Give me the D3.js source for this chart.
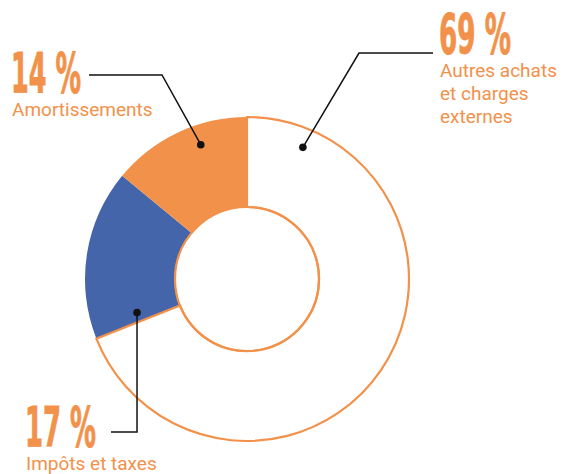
<!DOCTYPE html>
<html>
<head>
<meta charset="utf-8">
<script src="https://cdn.jsdelivr.net/npm/d3@7"></script>
<style>
  html, body { margin: 0; padding: 0; background: #fff; }
  svg { display: block; }
</style>
</head>
<body>
<div id="main"></div>
<script>
const ctx = {
    w: 566,
    h: 474,
    cx: 247,
    cy: 279,
    R_OUT: 162,
    R_IN: 72,
    ORANGE: "#f2914a",
    BLUE: "#4565ab",
};

// data, in drawing order (clockwise from 12 o'clock)
const categories = ["Autres achats et charges externes", "Impôts et taxes", "Amortissements"];
const values = [69, 17, 14];
const pctLabels = ["69 %", "17 %", "14 %"];
const labelLines = [["Autres achats", "et charges", "externes"], ["Impôts et taxes"], ["Amortissements"]];
const fills = ["#ffffff", ctx.BLUE, ctx.ORANGE];

// where each leader line touches its slice: angle (deg) and radius
const anchorAngle = [23, 253, 341];
const anchorRadius = [143, 115, 142];

// label blocks (x of text, baseline of the big number, elbow of the leader)
const labelPos = [
    {x: 439, y: 53, w: 72, elbow: [359, 53], end: [433, 53]},
    {x: 25, y: 446, w: 71, elbow: [137, 432], end: [111, 432]},
    {x: 11, y: 92, w: 70, elbow: [162, 75], end: [89, 75]},
];

function createViz(){
    const svg = d3.select("#main").append("svg")
        .attr("width", ctx.w)
        .attr("height", ctx.h);

    const pie = d3.pie().sort(null).value(d => d);
    const arcs = pie(values);
    const arc = d3.arc().innerRadius(ctx.R_IN).outerRadius(ctx.R_OUT);

    const g = svg.append("g").attr("transform", `translate(${ctx.cx},${ctx.cy})`);

    // coloured slices first, the white one with its outline on top
    const order = [1, 2, 0];
    g.selectAll("path.slice")
      .data(order.map(i => ({a: arcs[i], i: i})))
      .enter()
      .append("path")
      .attr("class", "slice")
      .attr("d", d => arc(d.a))
      .attr("fill", d => fills[d.i])
      .attr("stroke", d => d.i === 0 ? ctx.ORANGE : "none")
      .attr("stroke-width", 2.2);

    g.append("circle")
      .attr("r", ctx.R_IN)
      .attr("fill", "none")
      .attr("stroke", ctx.ORANGE)
      .attr("stroke-width", 2.2);

    // leader lines + dots
    const lines = svg.append("g").attr("id", "leaders");
    values.forEach(function(v, i){
        const p = d3.pointRadial(anchorAngle[i] * Math.PI / 180, anchorRadius[i]);
        const ax = ctx.cx + p[0], ay = ctx.cy + p[1];
        const L = labelPos[i];
        let pts;
        if (i === 1) {
            pts = [[ax, ay], [ax, L.elbow[1]], L.end];
        } else {
            pts = [[ax, ay], L.elbow, L.end];
        }
        lines.append("path")
             .attr("d", d3.line()(pts))
             .attr("fill", "none")
             .attr("stroke", "#111")
             .attr("stroke-width", 1.5);
        lines.append("circle")
             .attr("cx", ax).attr("cy", ay)
             .attr("r", 3.8)
             .attr("fill", "#111");
    });

    // labels
    const labels = svg.append("g").attr("id", "labels");
    values.forEach(function(v, i){
        const L = labelPos[i];
        labels.append("text")
              .attr("x", L.x)
              .attr("y", L.y)
              .attr("font-family", "'DejaVu Sans Condensed', 'DejaVu Sans', sans-serif")
              .attr("font-weight", "bold")
              .attr("font-size", 55)
              .attr("textLength", L.w)
              .attr("lengthAdjust", "spacingAndGlyphs")
              .attr("fill", ctx.ORANGE)
              .attr("stroke", ctx.ORANGE)
              .attr("stroke-width", 0.9)
              .text(pctLabels[i]);
        labelLines[i].forEach(function(s, j){
            labels.append("text")
                  .attr("x", L.x + 1)
                  .attr("y", L.y + 24 + j * 23)
                  .attr("font-family", "Roboto, sans-serif")
                  .attr("font-size", 19)
                  .attr("fill", ctx.ORANGE)
                  .text(s);
        });
    });
}

createViz();
</script>
</body>
</html>
